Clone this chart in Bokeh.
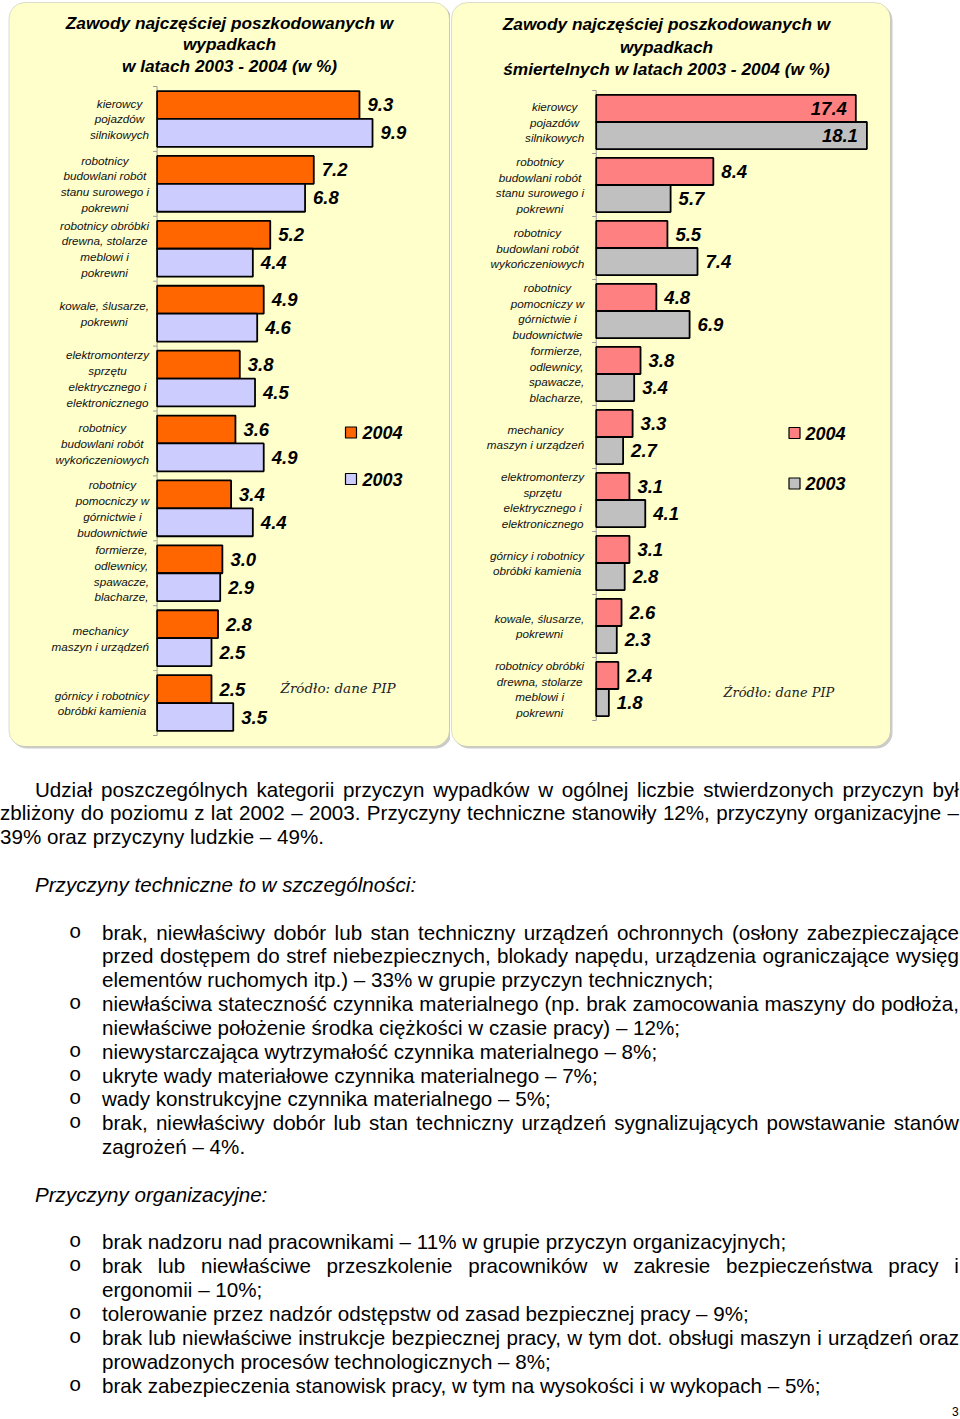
import numpy as np
from bokeh.plotting import figure
from bokeh.models import Range1d, BoxAnnotation, Div
from bokeh.layouts import column, row
from bokeh.core.properties import value
from bokeh.embed import file_html
from bokeh.resources import INLINE

# ---------------- data ----------------
left_title = ["Zawody najczęściej poszkodowanych w", "wypadkach", "w latach 2003 - 2004 (w %)"]
left_categories = [
    "kierowcy\npojazdów\nsilnikowych",
    "robotnicy\nbudowlani robót\nstanu surowego i\npokrewni",
    "robotnicy obróbki\ndrewna, stolarze\nmeblowi i\npokrewni",
    "kowale, ślusarze,\npokrewni",
    "elektromonterzy\nsprzętu\nelektrycznego i\nelektronicznego",
    "robotnicy\nbudowlani robót\nwykończeniowych",
    "robotnicy\npomocniczy w\ngórnictwie i\nbudownictwie",
    "formierze,\nodlewnicy,\nspawacze,\nblacharze,",
    "mechanicy\nmaszyn i urządzeń",
    "górnicy i robotnicy\nobróbki kamienia",
]
left_2004 = [9.3, 7.2, 5.2, 4.9, 3.8, 3.6, 3.4, 3.0, 2.8, 2.5]
left_2003 = [9.9, 6.8, 4.4, 4.6, 4.5, 4.9, 4.4, 2.9, 2.5, 3.5]

right_title = ["Zawody najczęściej poszkodowanych w", "wypadkach",
               "śmiertelnych w latach 2003 - 2004 (w %)"]
right_categories = [
    "kierowcy\npojazdów\nsilnikowych",
    "robotnicy\nbudowlani robót\nstanu surowego i\npokrewni",
    "robotnicy\nbudowlani robót\nwykończeniowych",
    "robotnicy\npomocniczy w\ngórnictwie i\nbudownictwie",
    "formierze,\nodlewnicy,\nspawacze,\nblacharze,",
    "mechanicy\nmaszyn i urządzeń",
    "elektromonterzy\nsprzętu\nelektrycznego i\nelektronicznego",
    "górnicy i robotnicy\nobróbki kamienia",
    "kowale, ślusarze,\npokrewni",
    "robotnicy obróbki\ndrewna, stolarze\nmeblowi i\npokrewni",
]
right_2004 = [17.4, 8.4, 5.5, 4.8, 3.8, 3.3, 3.1, 3.1, 2.6, 2.4]
right_2003 = [18.1, 5.7, 7.4, 6.9, 3.4, 2.7, 4.1, 2.8, 2.3, 1.8]

series_names = ["2004", "2003"]
source_note = "Źródło: dane PIP"

para1 = [
    "Udział poszczególnych kategorii przyczyn wypadków w ogólnej liczbie stwierdzonych przyczyn był",
    "zbliżony do poziomu z lat 2002 – 2003. Przyczyny techniczne stanowiły 12%, przyczyny organizacyjne –",
    "39% oraz przyczyny ludzkie – 49%.",
]
heading_tech = "Przyczyny techniczne to w szczególności:"
bullets_tech = [
    ["brak, niewłaściwy dobór lub stan techniczny urządzeń ochronnych (osłony zabezpieczające",
     "przed dostępem do stref niebezpiecznych, blokady napędu, urządzenia ograniczające wysięg",
     "elementów ruchomych itp.) – 33% w grupie przyczyn technicznych;"],
    ["niewłaściwa stateczność czynnika materialnego (np. brak zamocowania maszyny do podłoża,",
     "niewłaściwe położenie środka ciężkości w czasie pracy) – 12%;"],
    ["niewystarczająca wytrzymałość czynnika materialnego – 8%;"],
    ["ukryte wady materiałowe czynnika materialnego – 7%;"],
    ["wady konstrukcyjne czynnika materialnego – 5%;"],
    ["brak, niewłaściwy dobór lub stan techniczny urządzeń sygnalizujących powstawanie stanów",
     "zagrożeń – 4%."],
]
heading_org = "Przyczyny organizacyjne:"
bullets_org = [
    ["brak nadzoru nad pracownikami – 11% w grupie przyczyn organizacyjnych;"],
    ["brak lub niewłaściwe przeszkolenie pracowników w zakresie bezpieczeństwa pracy i",
     "ergonomii – 10%;"],
    ["tolerowanie przez nadzór odstępstw od zasad bezpiecznej pracy – 9%;"],
    ["brak lub niewłaściwe instrukcje bezpiecznej pracy, w tym dot. obsługi maszyn i urządzeń oraz",
     "prowadzonych procesów technologicznych – 8%;"],
    ["brak zabezpieczenia stanowisk pracy, w tym na wysokości i w wykopach – 5%;"],
]
page_number = "3"

# ---------------- helpers ----------------
FONT = value("Liberation Sans")
H_TOP = 752

ARIAL_W = {'a': 556, 'b': 556, 'c': 500, 'd': 556, 'e': 556, 'f': 278, 'g': 556, 'h': 556,
           'i': 222, 'j': 222, 'k': 500, 'l': 222, 'm': 833, 'n': 556, 'o': 556, 'p': 556,
           'q': 556, 'r': 333, 's': 500, 't': 278, 'u': 556, 'v': 500, 'w': 722, 'x': 500,
           'y': 500, 'z': 500, ' ': 278, ',': 278, '.': 278, 'ę': 556, 'ó': 556, 'ł': 222,
           'ś': 500, 'ń': 556, 'ą': 556, 'ż': 500, 'ź': 500, 'ć': 500}


def text_w(s, size):
    return sum(ARIAL_W.get(ch, 556) for ch in s) / 1000.0 * size


LEFT_CFG = dict(page_x=0, width=450, axis_px=156.6, pxu=21.76, axis_min=0.0,
                cat_top=86, cat_bottom=735, label_gap=8, line_px=15.8, label_size=11.7,
                panel=(8.5, 449, 2, 746), title_x=229, title_y=[22, 43.5, 65.5],
                leg_sq_x=350.5, leg_y=[432, 478.5], leg_txt_x=362,
                note_x=280, note_y=687, note_size="13.5px",
                colors=("#FF6600", "#CCCCFF"), inside_min=100)
RIGHT_CFG = dict(page_x=450, width=510, axis_px=595.7, pxu=15.83, axis_min=1.0,
                 cat_top=90, cat_bottom=720, label_gap=12, line_px=15.8, label_size=11.7,
                 panel=(451, 890, 2, 746), title_x=666, title_y=[23.5, 46, 68.5],
                 leg_sq_x=794, leg_y=[432.5, 483], leg_txt_x=805,
                 note_x=723, note_y=692, note_size="13px",
                 colors=("#FF8080", "#C0C0C0"), inside_min=15)


def make_chart(c, title, cats, v04, v03):
    W, H = c["width"], H_TOP
    x0 = c["page_x"]
    n = len(cats)
    pxu = c["pxu"]
    py = (c["cat_bottom"] - c["cat_top"]) / n
    xs = c["axis_min"] - (c["axis_px"] - x0) / pxu
    xe = c["axis_min"] + (x0 + W - c["axis_px"]) / pxu
    ys = (c["cat_bottom"] - H) / py
    ye = c["cat_bottom"] / py
    p = figure(width=W, height=H, x_range=Range1d(xs, xe), y_range=Range1d(ys, ye),
               output_backend="svg", toolbar_location=None, min_border=0,
               x_axis_location=None, y_axis_location=None, outline_line_color=None,
               background_fill_color="white", border_fill_color="white")
    p.xgrid.visible = False
    p.ygrid.visible = False
    p.extra_x_ranges = {"px": Range1d(x0, x0 + W)}
    p.extra_y_ranges = {"px": Range1d(H, 0)}

    l, r, t, b = c["panel"]
    p.add_layout(BoxAnnotation(left=l + 2, right=r + 2, top=t + 2, bottom=b + 2,
                               x_range_name="px", y_range_name="px",
                               fill_color="#b5b5b5", fill_alpha=0.7, line_color=None,
                               border_radius=16, level="underlay"))
    p.add_layout(BoxAnnotation(left=l, right=r, top=t, bottom=b,
                               x_range_name="px", y_range_name="px",
                               fill_color="#FFFFCC", fill_alpha=1.0, line_color="#8f8f8f",
                               line_width=1, border_radius=16, level="underlay"))

    yc = n - np.arange(n) - 0.5
    bh = 0.43
    a0 = c["axis_min"]
    # axis + tick marks at category boundaries
    p.segment(x0=[a0], y0=[0], x1=[a0], y1=[n], line_color="#9a9a9a", line_width=1)
    kb = np.arange(n + 1)
    p.segment(x0=[a0 - 4 / pxu] * (n + 1), y0=kb, x1=[a0] * (n + 1), y1=kb,
              line_color="#9a9a9a", line_width=1)

    for vals, yy, col in ((v04, yc + bh / 2, c["colors"][0]), (v03, yc - bh / 2, c["colors"][1])):
        vals = np.array(vals, dtype=float)
        p.hbar(y=yy, left=a0, right=vals, height=bh, fill_color=col,
               line_color="black", line_width=1.8)
        labels = [f"{v:.1f}" for v in vals]
        inside = vals >= c["inside_min"]
        out = ~inside
        if out.any():
            p.text(x=vals[out], y=yy[out], text=[s for s, o in zip(labels, out) if o],
                   x_offset=8, text_align="left", text_baseline="middle",
                   text_font=FONT, text_font_style="bold italic", text_font_size="18.5px",
                   text_color="black")
        if inside.any():
            p.text(x=vals[inside], y=yy[inside], text=[s for s, o in zip(labels, inside) if o],
                   x_offset=-9, text_align="right", text_baseline="middle",
                   text_font=FONT, text_font_style="bold italic", text_font_size="18.5px",
                   text_color="black")

    # category labels: block right-aligned to the axis, lines centred in the block
    lx, ly, lt = [], [], []
    for i, cat in enumerate(cats):
        lines = cat.split("\n")
        bw = max(text_w(s, c["label_size"]) for s in lines)
        cx = a0 - (c["label_gap"] + bw / 2) / pxu
        nl = len(lines)
        for j, s in enumerate(lines):
            lx.append(cx)
            ly.append(yc[i] - (j - (nl - 1) / 2) * c["line_px"] / py)
            lt.append(s)
    p.text(x=lx, y=ly, text=lt, text_align="center", text_baseline="middle",
           text_font=FONT, text_font_style="italic", text_font_size=f"{c['label_size']}px",
           text_color="#111111")

    # title
    p.text(x=[c["title_x"]] * 3, y=c["title_y"], text=title, x_range_name="px", y_range_name="px",
           text_align="center", text_baseline="middle", text_font=FONT,
           text_font_style="bold italic", text_font_size="17.3px", text_color="black")

    # legend
    p.scatter(x=[c["leg_sq_x"]] * 2, y=c["leg_y"], marker="square", size=11,
              fill_color=list(c["colors"]), line_color="black", line_width=1.2,
              x_range_name="px", y_range_name="px")
    p.text(x=[c["leg_txt_x"]] * 2, y=c["leg_y"], text=series_names,
           x_range_name="px", y_range_name="px", text_align="left", text_baseline="middle",
           text_font=FONT, text_font_style="bold italic", text_font_size="18px",
           text_color="black")

    # source note
    p.text(x=[c["note_x"]], y=[c["note_y"]], text=[source_note], x_range_name="px",
           y_range_name="px", text_align="left", text_baseline="middle",
           text_font=value("DejaVu Serif"), text_font_style="italic",
           text_font_size=c["note_size"], text_color="#222222")
    return p


p_left = make_chart(LEFT_CFG, left_title, left_categories, left_2004, left_2003)
p_right = make_chart(RIGHT_CFG, right_title, right_categories, right_2004, right_2003)

# ---------------- text below the charts ----------------
LH = 23.84
Y0 = 790.0
RIGHT_EDGE = 959
DIV_H = 1411 - H_TOP


def esc(s):
    return s.replace("&", "&amp;").replace("<", "&lt;").replace(">", "&gt;")


def line_html(x, yc, s, justify=False, italic=False):
    top = yc - H_TOP - 12.5
    st = f"position:absolute;left:{x}px;top:{top:.2f}px;height:{LH}px;white-space:nowrap;"
    if italic:
        st += "font-style:italic;"
    if justify:
        st += f"width:{RIGHT_EDGE - x}px;display:flex;justify-content:space-between;"
        inner = "".join(f"<span>{esc(w)}</span>" for w in s.split(" "))
    else:
        inner = esc(s)
    return f'<div style="{st}">{inner}</div>'


def bullet_html(yc):
    top = yc - H_TOP - 12.5
    return (f'<div style="position:absolute;left:69px;top:{top:.2f}px;height:{LH}px;'
            f'font-family:\'Liberation Mono\',monospace;">o</div>')


parts = []
rowi = 0
for k, s in enumerate(para1):
    parts.append(line_html(35 if k == 0 else 0, Y0 + LH * rowi, s, justify=(k < len(para1) - 1)))
    rowi += 1
rowi += 1
parts.append(line_html(35, Y0 + LH * rowi, heading_tech, italic=True))
rowi += 2
for item in bullets_tech:
    parts.append(bullet_html(Y0 + LH * rowi))
    for k, s in enumerate(item):
        parts.append(line_html(102, Y0 + LH * rowi, s, justify=(k < len(item) - 1)))
        rowi += 1
rowi += 1
parts.append(line_html(35, Y0 + LH * rowi, heading_org, italic=True))
rowi += 2
for item in bullets_org:
    parts.append(bullet_html(Y0 + LH * rowi))
    for k, s in enumerate(item):
        parts.append(line_html(102, Y0 + LH * rowi, s, justify=(k < len(item) - 1)))
        rowi += 1
parts.append(f'<div style="position:absolute;left:952px;top:{1412 - H_TOP - 7}px;'
             f'font-size:12px;line-height:14px;">{page_number}</div>')

html = ('<div style="position:relative;width:960px;height:%dpx;'
        'font-family:\'Liberation Sans\',Arial,sans-serif;font-size:20.6px;'
        'line-height:%.2fpx;color:#000;">' % (DIV_H, LH)) + "".join(parts) + "</div>"

text_div = Div(text=html, width=960, height=DIV_H, margin=0)

layout = column(row(p_left, p_right), text_div)

open("out.html", "w").write(file_html(layout, INLINE))
